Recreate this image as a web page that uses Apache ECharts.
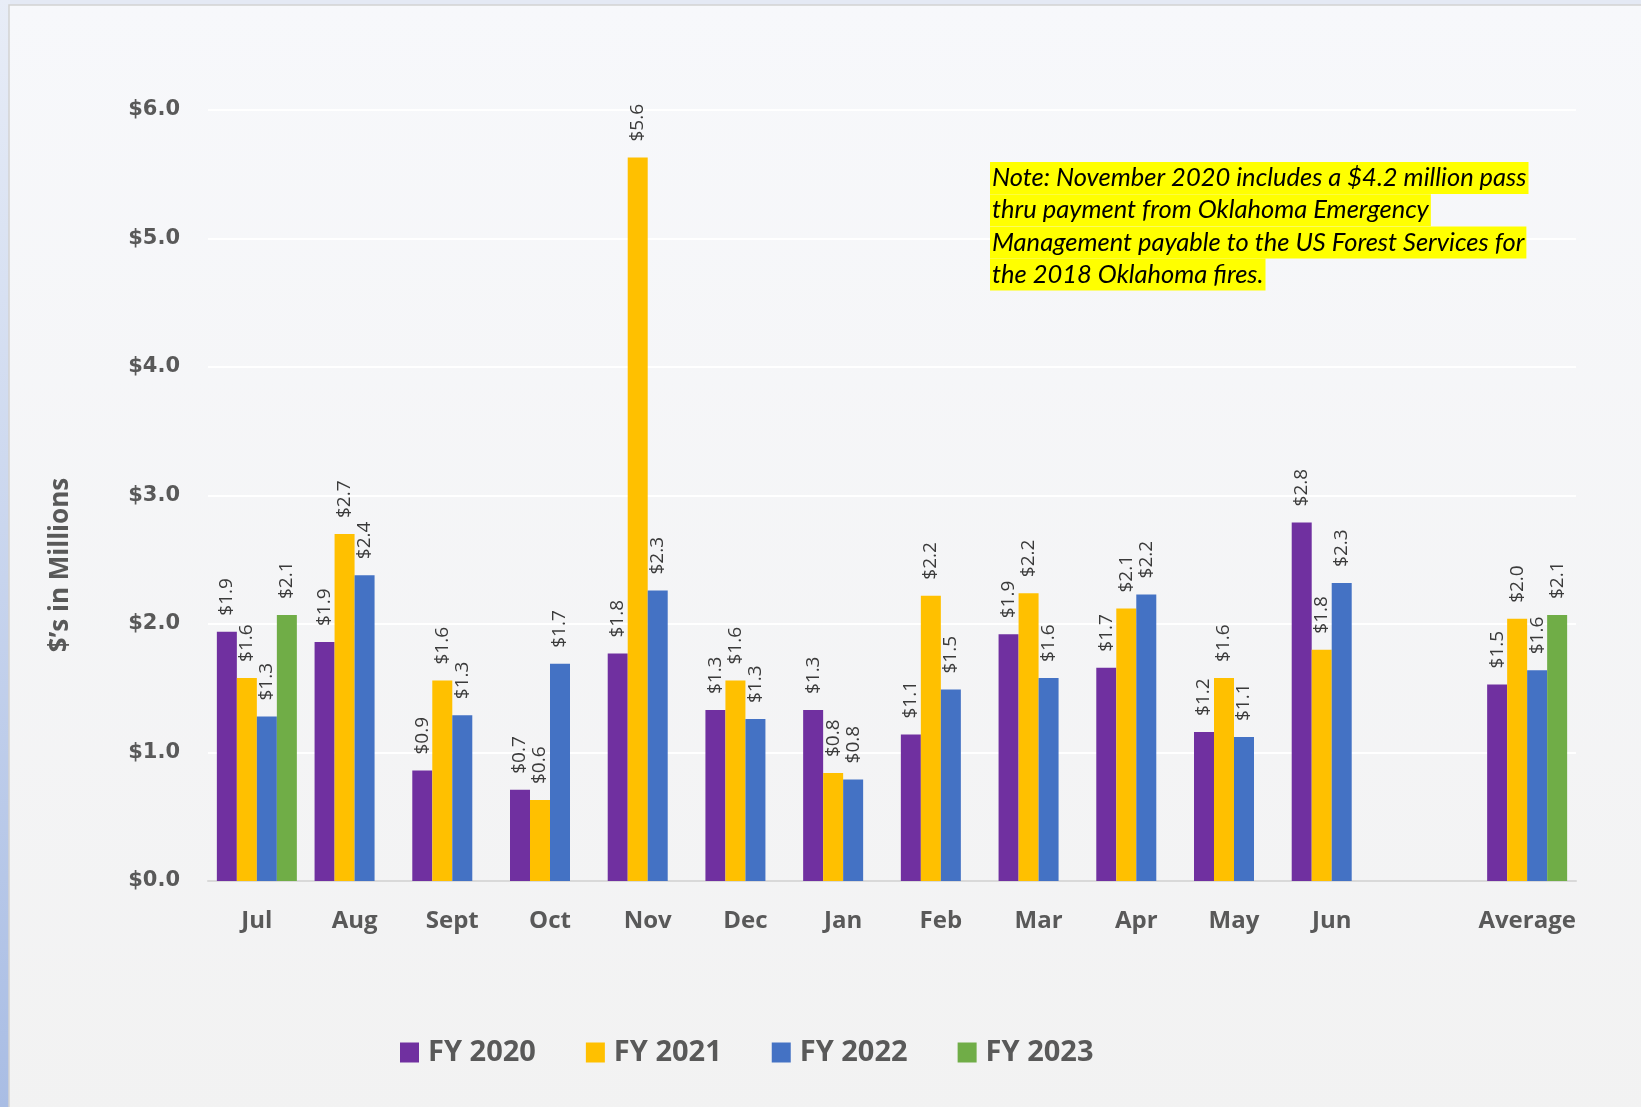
<!DOCTYPE html>
<html>
<head>
<meta charset="utf-8">
<title>Monthly revenue by fiscal year</title>
<script src="https://cdn.jsdelivr.net/npm/echarts@6/dist/echarts.min.js"></script>
<style>
  html, body { margin: 0; padding: 0; background: #e4e9f4; }
  #chart { width: 1641px; height: 1107px; }
</style>
</head>
<body>
<div id="chart"></div>
<script>
// categories (blank slot before Average, like the original)
var categories = ["Jul", "Aug", "Sept", "Oct", "Nov", "Dec", "Jan", "Feb", "Mar", "Apr", "May", "Jun", "", "Average"];
var seriesNames = ["FY 2020", "FY 2021", "FY 2022", "FY 2023"];
// $ millions
var fy2020 = [1.94, 1.86, 0.86, 0.71, 1.77, 1.33, 1.33, 1.14, 1.92, 1.66, 1.16, 2.79, "-", 1.53];
var fy2021 = [1.58, 2.70, 1.56, 0.63, 5.63, 1.56, 0.84, 2.22, 2.24, 2.12, 1.58, 1.80, "-", 2.04];
var fy2022 = [1.28, 2.38, 1.29, 1.69, 2.26, 1.26, 0.79, 1.49, 1.58, 2.23, 1.12, 2.32, "-", 1.64];
var fy2023 = [2.07, "-", "-", "-", "-", "-", "-", "-", "-", "-", "-", "-", "-", 2.07];
var colors = ["#7030a0", "#ffc000", "#4472c4", "#70ad47"];
var yMin = 0, yMax = 6, yStep = 1;
var yName = "$\u2019s in Millions";
var noteLines = [
  "Note: November 2020 includes a $4.2 million pass",
  "thru payment from Oklahoma Emergency",
  "Management payable to the US Forest Services for",
  "the 2018 Oklahoma fires."
];

var chart = echarts.init(document.getElementById("chart"));

function makeSeries(name, data, i) {
  return {
    name: name,
    type: "bar",
    data: data,
    barWidth: 20,
    barGap: "0%",
    itemStyle: { color: colors[i] },
    label: {
      show: true,
      position: "top",
      rotate: 90,
      align: "left",
      verticalAlign: "middle",
      distance: 16,
      fontFamily: "Open Sans",
      fontSize: 19,
      color: "#3a3a3a",
      formatter: function (p) { return "$" + Number(p.value).toFixed(1); }
    }
  };
}

var graphics = [
  // outer strip on the left
  {
    type: "rect", z: -100, silent: true,
    shape: { x: 0, y: 0, width: 10, height: 1107 },
    style: {
      fill: new echarts.graphic.LinearGradient(0, 0, 0, 1, [
        { offset: 0, color: "#e8edf7" }, { offset: 1, color: "#a9bde4" }
      ])
    }
  },
  // chart box
  {
    type: "rect", z: -99, silent: true,
    shape: { x: 9, y: 5, width: 1660, height: 1120 },
    style: {
      fill: new echarts.graphic.LinearGradient(0, 0, 0, 1, [
        { offset: 0, color: "#f7f8fb" }, { offset: 1, color: "#f2f2f2" }
      ]),
      stroke: "#d2d2d2", lineWidth: 1.5
    }
  },
  // y axis title
  {
    type: "text", silent: true,
    x: 61, y: 565, rotation: Math.PI / 2,
    style: {
      text: yName, fontFamily: "Open Sans", fontWeight: "bold", fontSize: 26,
      fill: "#595959", align: "center", verticalAlign: "middle"
    }
  }
];

// highlighted note, one box per line, above the grid lines
noteLines.forEach(function (line, i) {
  graphics.push({
    type: "text", silent: true, z: 100,
    x: 990, y: 162 + i * 32.2,
    style: {
      text: line, fontFamily: "Lato", fontStyle: "italic", fontSize: 25.5,
      fill: "#000", backgroundColor: "#ffff00", lineHeight: 32,
      padding: [0, 2, 0, 2], verticalAlign: "top"
    }
  });
});

chart.setOption({
  backgroundColor: "transparent",
  animation: false,
  color: colors,
  graphic: graphics,
  grid: { left: 208, right: 65, top: 110, bottom: 226, containLabel: false },
  legend: {
    data: seriesNames,
    left: 395,
    top: 1033,
    icon: "rect",
    itemWidth: 19,
    itemHeight: 20,
    itemGap: 50,
    textStyle: {
      fontFamily: "Open Sans", fontWeight: "bold", fontSize: 29,
      color: "#595959", padding: [0, 0, 0, 4]
    }
  },
  xAxis: {
    type: "category",
    data: categories,
    axisTick: { show: false },
    axisLine: { lineStyle: { color: "#d9d9d9", width: 2 } },
    axisLabel: {
      interval: 0, margin: 28,
      fontFamily: "Open Sans", fontWeight: "bold", fontSize: 24, color: "#595959"
    }
  },
  yAxis: {
    type: "value",
    min: yMin, max: yMax, interval: yStep,
    axisLine: { show: false },
    axisTick: { show: false },
    splitLine: { lineStyle: { color: "#ffffff", width: 2 } },
    axisLabel: {
      margin: 28,
      fontFamily: "DejaVu Sans", fontWeight: "bold", fontSize: 21, color: "#595959",
      formatter: function (v) { return "$" + v.toFixed(1); }
    }
  },
  series: [
    makeSeries(seriesNames[0], fy2020, 0),
    makeSeries(seriesNames[1], fy2021, 1),
    makeSeries(seriesNames[2], fy2022, 2),
    makeSeries(seriesNames[3], fy2023, 3)
  ]
});
</script>
</body>
</html>
